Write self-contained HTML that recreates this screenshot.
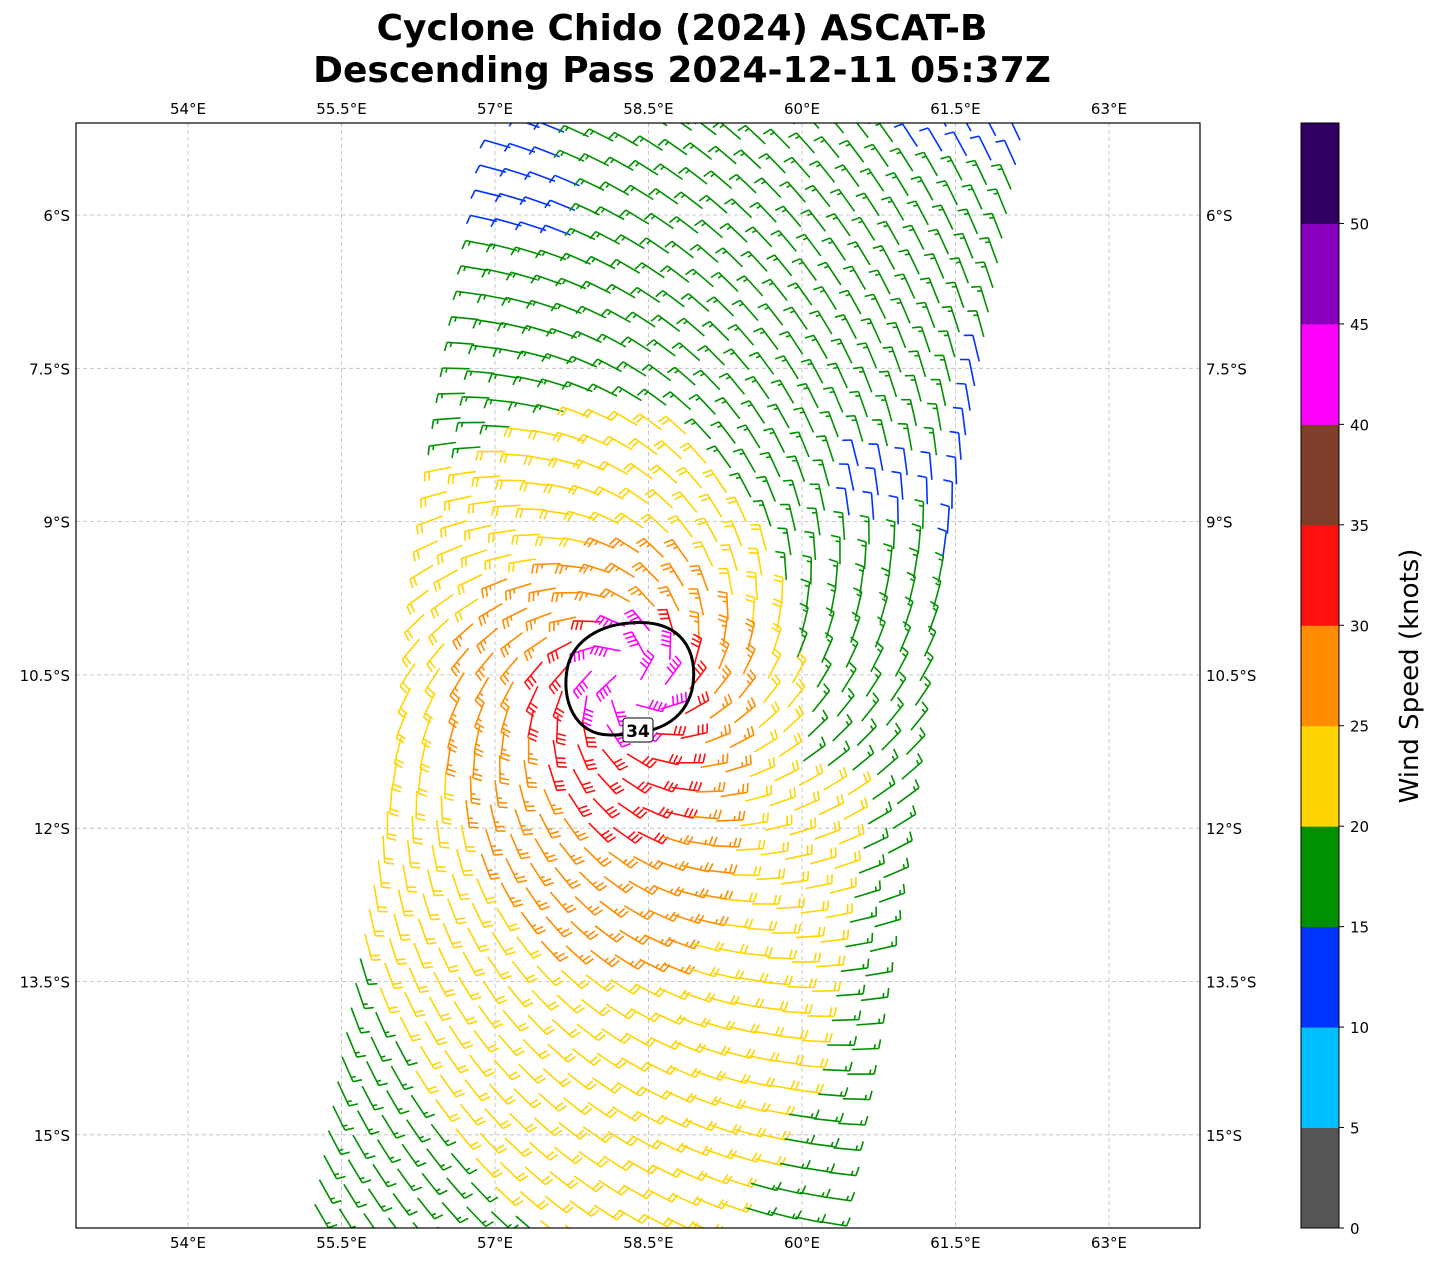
<!DOCTYPE html>
<html><head><meta charset="utf-8"><style>
body{margin:0;background:#fff;}
svg{display:block;font-family:"DejaVu Sans","Liberation Sans",sans-serif;}
</style></head><body>
<svg id="s" width="1438" height="1264" xmlns="http://www.w3.org/2000/svg">
<defs><clipPath id="c"><rect x="76" y="123" width="1124" height="1105"/></clipPath></defs>
<text x="682" y="40" font-size="36" font-weight="bold" text-anchor="middle">Cyclone Chido (2024) ASCAT-B</text>
<text x="682" y="82" font-size="36" font-weight="bold" text-anchor="middle">Descending Pass 2024-12-11 05:37Z</text>
<g id="grid" stroke="#bbb" stroke-width="0.8" stroke-dasharray="4,3"></g>
<g id="barbs" clip-path="url(#c)" stroke-width="1.6" fill="none" stroke-linecap="butt"></g>
<path d="M630,623 C680,618 700,650 692,690 C684,720 660,735 610,735 C575,735 560,700 568,665 C575,640 600,625 630,623 Z" fill="none" stroke="#000" stroke-width="3"/>
<rect x="623" y="718" width="30" height="24" rx="3" fill="#fff" stroke="#000" stroke-width="1"/>
<text x="638" y="737" font-size="17" font-weight="bold" text-anchor="middle">34</text>
<rect x="76" y="123" width="1124" height="1105" fill="none" stroke="#000" stroke-width="1.2"/>
<g id="lab" font-size="15"></g>
<g id="cb"></g>
<text transform="translate(1418,676) rotate(-90)" font-size="26" text-anchor="middle">Wind Speed (knots)</text>
</svg>
<script>
var NS="http://www.w3.org/2000/svg";
function el(p,t,a,txt){var e=document.createElementNS(NS,t);for(var k in a)e.setAttribute(k,a[k]);if(txt!=null)e.textContent=txt;p.appendChild(e);return e;}
var grid=document.getElementById('grid'),lab=document.getElementById('lab');
var lons=[54,55.5,57,58.5,60,61.5,63];
lons.forEach(function(l){var x=188+(l-54)*102.33;el(grid,'line',{x1:x,y1:123,x2:x,y2:1228});
var t=(l%1?l.toFixed(1):l)+'°E';el(lab,'text',{x:x,y:114,'text-anchor':'middle'},t);el(lab,'text',{x:x,y:1248,'text-anchor':'middle'},t);});
var lats=[6,7.5,9,10.5,12,13.5,15];
lats.forEach(function(l){var y=215+(l-6)*102.2;el(grid,'line',{x1:76,y1:y,x2:1200,y2:y});
var t=(l%1?l.toFixed(1):l)+'°S';el(lab,'text',{x:70,y:y+6,'text-anchor':'end'},t);el(lab,'text',{x:1206,y:y+6},t);});
var cols=['#555555','#00bfff','#0033ff','#009000','#ffd400','#ff8c00','#ff1010','#803f2a','#ff00ff','#8800bb','#300060'];
var cb=document.getElementById('cb');var h=1105/11;
for(var i=0;i<11;i++){el(cb,'rect',{x:1301,y:1228-(i+1)*h,width:38,height:h+0.5,fill:cols[i]});}
el(cb,'rect',{x:1301,y:123,width:38,height:1105,fill:'none',stroke:'#000','stroke-width':1});
for(var i=0;i<=10;i++){var y=1228-i*h;el(cb,'line',{x1:1339,y1:y,x2:1344,y2:y,stroke:'#000'});el(cb,'text',{x:1350,y:y+6,'font-size':15},i*5);}
var g=document.getElementById('barbs');
var cx=630,cy=680;
var u=[-0.182,0.983],w=[0.983,0.182];
var ox=515,oy=123,S=25;
var out=[];
for(var r=-6;r<52;r++)for(var c=0;c<=20;c++){
 var px=ox+u[0]*r*S+w[0]*c*S, py=oy+u[1]*r*S+w[1]*c*S;
 if(py<115||py>1240)continue;
 var dx=px-cx,dy=py-cy;
 var ar=Math.sqrt(dx*dx+dy*dy);
 var ex=dx>0?dx*1.2:dx*0.8, ey=dy>0?dy*0.5:dy*1.1;
 var re=Math.sqrt(ex*ex+ey*ey);
 var ex2=dx>0?(dy<100?dx*1.45:dx):dx*0.8, ey2=dy>0?dy*0.42:dy*0.9;
 var re2=Math.sqrt(ex2*ex2+ey2*ey2);
 var sp;
 if(ar<58)sp=42;else if(re<80)sp=32;else if(re<150)sp=27;else if(re2<240)sp=22;else sp=17;
 if((py<235&&px<580)||(py<165&&px>900)||(c==20&&py>350&&py<560)||(px>840&&px<935&&py>455&&py<525))sp=12;
 var col=cols[Math.min(10,Math.floor(sp/5))];
 var rr=ar||1;
 var vx=-dy/rr-0.55*dx/rr, vy=dx/rr-0.55*dy/rr;
 var vl=Math.sqrt(vx*vx+vy*vy);var d0=-vx/vl,d1=-vy/vl;
 var L=27,tx=px+d0*L,ty=py+d1*L;
 var n0=d1,n1=-d0;
 var s='M'+px.toFixed(1)+','+py.toFixed(1)+'L'+tx.toFixed(1)+','+ty.toFixed(1);
 var full=Math.floor(sp/10),half=(sp%10)>=5?1:0,pos=0;
 for(var k=0;k<full;k++){var bx=tx-d0*pos,by=ty-d1*pos;s+='M'+bx.toFixed(1)+','+by.toFixed(1)+'l'+(n0*9+d0*2).toFixed(1)+','+(n1*9+d1*2).toFixed(1);pos+=4.5;}
 if(half){var bx=tx-d0*pos,by=ty-d1*pos;s+='M'+bx.toFixed(1)+','+by.toFixed(1)+'l'+(n0*4.5+d0*1).toFixed(1)+','+(n1*4.5+d1*1).toFixed(1);}
 out.push('<path d="'+s+'" stroke="'+col+'"/>');
}
g.innerHTML=out.join('');
</script>
</body></html>
